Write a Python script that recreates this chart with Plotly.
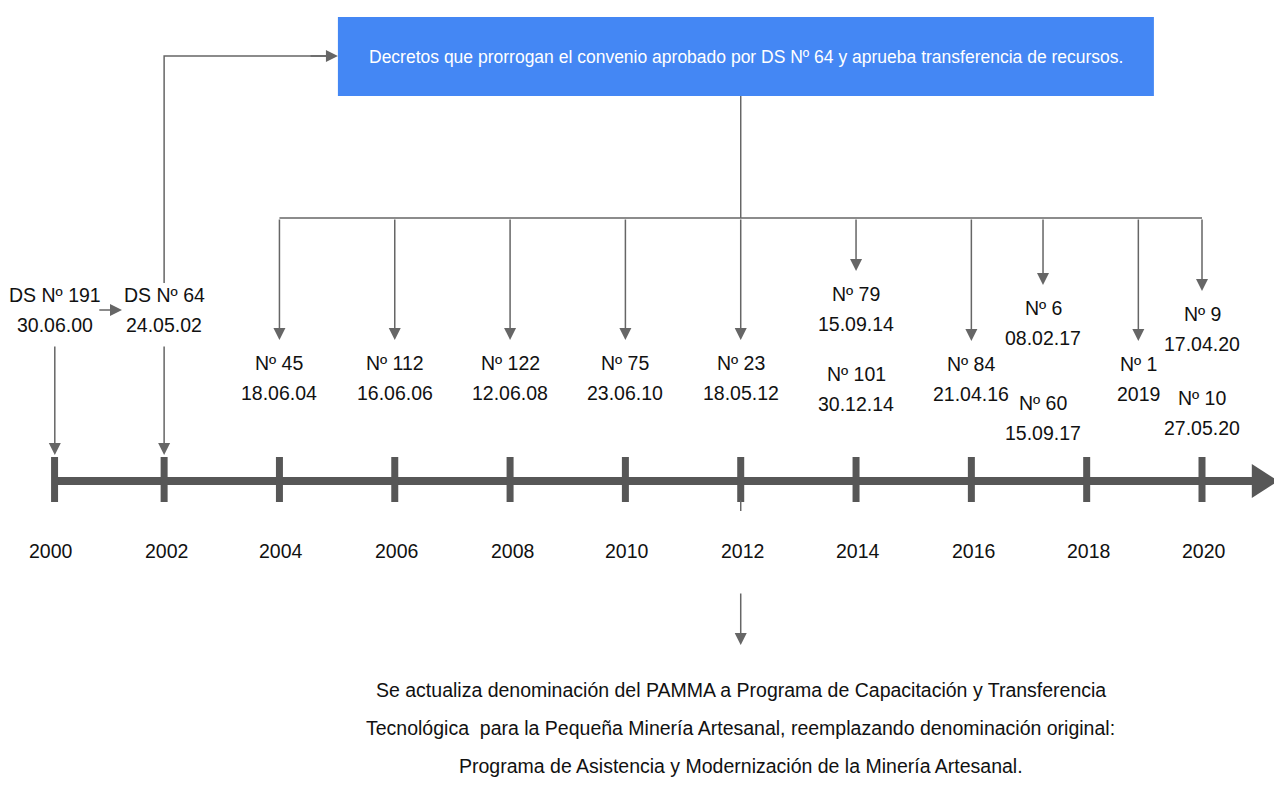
import plotly.graph_objects as go

# ---------------- data ----------------
axis_years = list(range(2000, 2021, 2))

origin_years = [2000, 2002]
origin_labels = ["DS Nº 191", "DS Nº 64"]
origin_dates = ["30.06.00", "24.05.02"]

ext_years = [2004, 2006, 2008, 2010, 2012, 2014, 2014, 2016, 2017, 2017, 2019, 2020, 2020]
ext_labels = ["Nº 45", "Nº 112", "Nº 122", "Nº 75", "Nº 23", "Nº 79", "Nº 101",
              "Nº 84", "Nº 6", "Nº 60", "Nº 1", "Nº 9", "Nº 10"]
ext_dates = ["18.06.04", "16.06.06", "12.06.08", "23.06.10", "18.05.12", "15.09.14",
             "30.12.14", "21.04.16", "08.02.17", "15.09.17", "2019", "17.04.20", "27.05.20"]

box_text = "Decretos que prorrogan el convenio aprobado por DS Nº 64 y aprueba transferencia de recursos."
rename_year = 2012
rename_lines = [
    "Se actualiza denominación del PAMMA a Programa de Capacitación y Transferencia",
    "Tecnológica  para la Pequeña Minería Artesanal, reemplazando denominación original:",
    "Programa de Asistencia y Modernización de la Minería Artesanal.",
]

# ---------------- layout / style ----------------
FONT = "Liberation Sans, Arial, sans-serif"
TXT = "#111111"
LINE = "#666666"
AXIS = "#575757"
BLUE = "#4487F4"
FS = 19.5
FS_BOX = 17.5
HALF_LINE = 15

# vertical layout levels (pixel rows, y axis reversed)
ext_label_y = [378, 378, 378, 378, 378, 309, 389, 379, 323, 418, 379, 329, 413]
group_xshift = {2017: 14, 2019: -6}
origin_xshift = {2000: 6}
origin_label_y = 310
TIMELINE_Y = 481
TICK_TOP, TICK_BOT = 457, 502
YEAR_Y = 551
BRACKET_Y = 218
BOX_TOP, BOX_BOT = 17, 96
BOX_HALF = 7.076
TOP_LINE_Y = 56
RENAME_Y = [690, 728, 766]

X0, X1 = 1999.1537, 2021.2487
AX_END = 2020.884
AX_TIP = 2021.32

fig = go.Figure()
shapes = []
ann = []


def text(x, y, s, size=FS, color=TXT, xshift=0):
    ann.append(dict(x=x, y=y, xref="x", yref="y", text=s, showarrow=False, xshift=xshift,
                    font=dict(family=FONT, size=size, color=color)))


def arrow(xt, yt, xs, ys, xshift=0):
    ann.append(dict(x=xt, y=yt, ax=xs, ay=ys, xref="x", yref="y", axref="x", ayref="y",
                    text="", showarrow=True, arrowhead=2, arrowsize=1.6, arrowwidth=1.5,
                    arrowcolor=LINE, standoff=0, startstandoff=0, xshift=xshift))


# timeline axis
shapes.append(dict(type="line", xref="x", yref="y", x0=axis_years[0] + 0.1, x1=AX_END,
                   y0=TIMELINE_Y, y1=TIMELINE_Y, line=dict(color=AXIS, width=8)))
shapes.append(dict(type="path", xref="x", yref="y",
                   path=f"M {AX_END-0.02} {TIMELINE_Y-17} L {AX_TIP} {TIMELINE_Y} L {AX_END-0.02} {TIMELINE_Y+17} Z",
                   fillcolor=AXIS, line=dict(color=AXIS, width=0)))
for yr in axis_years:
    xs = 0.1 if yr == axis_years[0] else 0
    shapes.append(dict(type="line", xref="x", yref="y", x0=yr + xs, x1=yr + xs,
                       y0=TICK_TOP, y1=TICK_BOT, line=dict(color=AXIS, width=7)))
    text(yr, YEAR_Y, str(yr), xshift=2)

# origin decrees
for yr, lab, dt in zip(origin_years, origin_labels, origin_dates):
    sh = origin_xshift.get(yr, 0)
    text(yr, origin_label_y - HALF_LINE, lab, xshift=sh)
    text(yr, origin_label_y + HALF_LINE, dt, xshift=sh)
    arrow(yr, TICK_TOP - 2, yr, origin_label_y + 35, xshift=sh)
mid = (origin_years[0] + origin_years[1]) / 2
arrow(mid + 0.27, origin_label_y, mid - 0.15, origin_label_y)

# bracket from DS 64 to blue box
box_l, box_r = rename_year - BOX_HALF + 0.09, rename_year + BOX_HALF + 0.09
shapes.append(dict(type="path", xref="x", yref="y",
                   path=f"M {origin_years[1]} {origin_label_y-27} L {origin_years[1]} {TOP_LINE_Y} L {box_l-0.05} {TOP_LINE_Y}",
                   line=dict(color=LINE, width=1.5)))
arrow(box_l, TOP_LINE_Y, box_l - 0.5, TOP_LINE_Y)

# blue box
shapes.append(dict(type="rect", xref="x", yref="y", x0=box_l, x1=box_r, y0=BOX_TOP, y1=BOX_BOT,
                   fillcolor=BLUE, line=dict(width=0)))
text((box_l + box_r) / 2, (BOX_TOP + BOX_BOT) / 2, box_text, size=FS_BOX, color="white")

# box to bracket
shapes.append(dict(type="line", xref="x", yref="y", x0=rename_year, x1=rename_year,
                   y0=BOX_BOT, y1=BRACKET_Y, line=dict(color=LINE, width=1.5)))
shapes.append(dict(type="line", xref="x", yref="y", x0=min(ext_years), x1=max(ext_years),
                   y0=BRACKET_Y, y1=BRACKET_Y, line=dict(color=LINE, width=1.5)))

# extension decrees
seen = set()
for yr, lab, dt, ly in zip(ext_years, ext_labels, ext_dates, ext_label_y):
    sh = group_xshift.get(yr, 0)
    text(yr, ly - HALF_LINE, lab, xshift=sh)
    text(yr, ly + HALF_LINE, dt, xshift=sh)
    if yr not in seen:
        seen.add(yr)
        arrow(yr, ly - 38, yr, BRACKET_Y, xshift=sh)

# rename note below 2012
shapes.append(dict(type="line", xref="x", yref="y", x0=rename_year, x1=rename_year,
                   y0=TICK_BOT - 2, y1=TICK_BOT + 9, line=dict(color=LINE, width=1.5)))
arrow(rename_year, 645, rename_year, 592)
for line_txt, yy in zip(rename_lines, RENAME_Y):
    text(rename_year, yy, line_txt)

fig.update_layout(
    width=1274, height=785,
    margin=dict(l=0, r=0, t=0, b=0),
    paper_bgcolor="white", plot_bgcolor="white",
    shapes=shapes, annotations=ann, showlegend=False,
    xaxis=dict(range=[X0, X1], visible=False, fixedrange=True),
    yaxis=dict(range=[785, 0], visible=False, fixedrange=True),
)
fig.write_html("out.html", config={"displayModeBar": False},
               post_script="document.body.style.margin='0px';document.body.style.overflow='hidden';")
